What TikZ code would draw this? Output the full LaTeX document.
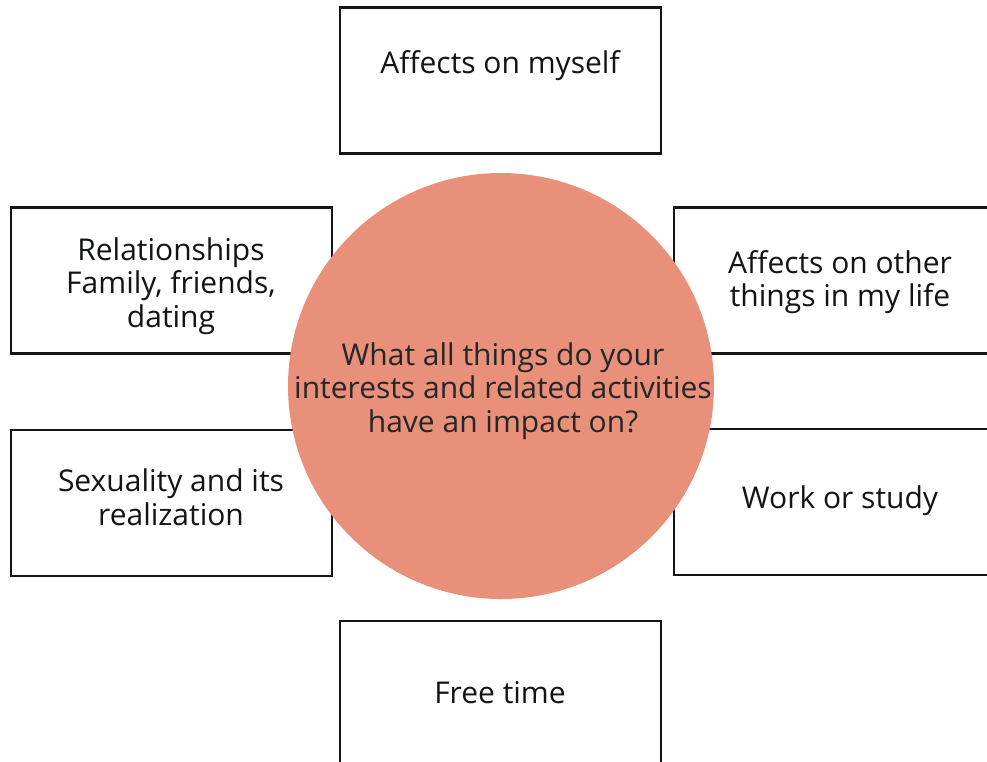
\documentclass[tikz,border=0pt]{standalone}
\usepackage{fontspec}
\setmainfont{Open Sans}
\usepackage{tikz}
\usetikzlibrary{positioning}
\definecolor{salmon}{HTML}{E8907A}
\definecolor{ink}{HTML}{121417}
\tikzset{
  box/.style={rectangle,draw=ink,line width=2.8pt,fill=white,minimum width=321pt,minimum height=146pt},
  label/.style={align=center,text=ink,font=\fontsize{30}{33.5}\selectfont},
  hub/.style={circle,fill=salmon,minimum size=426pt,inner sep=0pt}
}

\begin{document}
\begin{tikzpicture}[x=1pt,y=-1pt]
    \useasboundingbox (0,0) rectangle (987,761);
    \clip (0,0) rectangle (987,761);
    % top and bottom boxes
    \node[box] (self) at (500.5,80.5) {};
    \node[label] (selft) at (500,66) {Affects on myself};
    \node[box] (free) at (500.5,694) {};
    \node[label] (freet) at (500,693) {Free time};
    % left boxes
    \node[box] (rel) at (171.5,280.5) {};
    \node[label] (relt) at (171,286) {Relationships\\Family, friends,\\dating};
    \node[box] (sex) at (171.5,503) {};
    \node[label] (sext) at (171,497) {Sexuality and its\\realization};
    % right boxes
    \node[box,minimum width=332pt] (other) at (840,280.5) {};
    \node[label] (othert) at (840,282) {Affects on other\\things in my life};
    \node[box,minimum width=332pt] (work) at (840,502) {};
    \node[label] (workt) at (840,501) {Work or study};
    % circle in the middle
    \node[hub] (hub) at (501,386) {};
    \node[label,text=black!85] (hubt) at (503,391) {What all things do your\\interests and related activities\\have an impact on?};
\end{tikzpicture}
\end{document}
